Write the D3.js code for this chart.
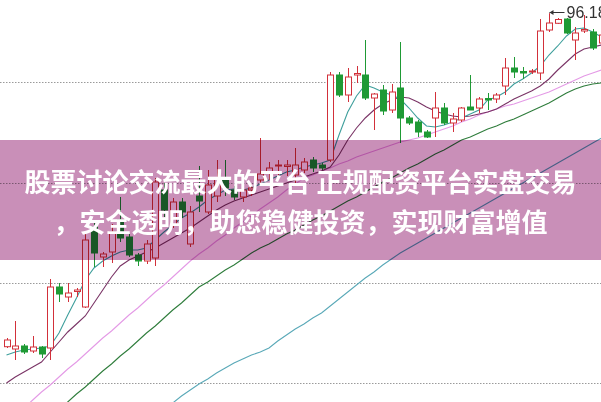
<!DOCTYPE html>
<html><head><meta charset="utf-8">
<script src="https://cdn.jsdelivr.net/npm/d3@7"></script>
<style>html,body{margin:0;padding:0;background:#fff;overflow:hidden}</style>
</head><body><svg id="c" width="601" height="402"></svg>
<script>
// ---- data (price units) ----
const opens  = [62.83,62.6,62.9,62.4,62.8,62.7,68.8,67.8,68.35,66.8,74.8,71.8,72.3,75.5,73.8,72.0,71.4,71.7,78.5,75.0,77.3,73.1,77.9,76.3,77.9,79.5,78.5,77.8,78.5,79.5,80.3,80.9,80.85,80.0,80.5,81.5,81.0,81.5,90.0,88.0,90.0,90.0,87.7,88.5,86.5,88.7,85.7,85.3,84.3,85.7,86.7,85.2,85.5,86.8,86.7,87.65,87.6,88.9,90.7,90.35,90.3,90.2,94.5,95.17,95.6,93.5,94.4,94.3,93.2];
const highs  = [63.7,65.4,63.1,63.9,62.9,69.6,69.2,69.2,68.7,74.3,75.5,72.3,75.1,77.8,74.1,72.2,73.5,79.7,79.2,77.7,77.7,76.9,80.9,80.5,81.5,81.5,78.9,78.9,79.1,83.7,81.3,81.5,81.5,82.7,81.7,81.8,81.2,90.3,90.3,90.7,90.9,93.5,88.2,89.0,89.1,93.3,85.9,85.5,84.5,88.3,87.2,86.2,86.8,90.0,87.8,88.2,88.2,91.7,91.8,90.8,90.6,95.6,96.18,95.7,95.7,94.8,96.0,94.6,94.2];
const lows   = [62.7,61.5,62.1,62.2,61.7,61.5,67.3,67.3,67.8,66.7,70.8,70.8,71.2,73.3,71.8,70.9,71.1,70.9,75.8,74.7,75.7,72.8,76.3,76.1,77.3,77.9,77.5,77.3,77.9,79.2,79.5,79.8,79.9,79.2,80.2,80.3,80.5,81.3,87.8,87.3,89.2,87.5,84.5,86.0,86.2,83.2,85.0,83.8,83.7,83.8,85.0,84.3,85.3,86.5,86.2,86.5,87.2,88.0,89.7,89.6,90.1,89.5,94.3,95.1,94.1,91.5,94.2,92.5,93.0];
const closes = [63.5,62.9,62.3,62.8,62.1,68.8,68.1,68.2,68.5,73.5,72.2,72.1,74.3,73.7,72.0,71.4,73.1,79.3,76.5,77.3,76.3,76.3,77.4,79.0,79.7,78.7,77.8,78.5,78.7,80.1,80.7,81.0,81.0,81.0,81.3,80.7,80.7,90.0,88.0,89.8,90.15,87.7,88.1,86.4,88.3,85.7,85.2,84.3,83.8,86.7,85.2,85.6,86.7,86.5,87.6,87.5,88.0,90.7,90.3,90.2,90.4,94.4,95.2,95.55,94.2,94.2,94.55,92.7,94.0];

const ma5  = [62.0,62.3,62.5,62.6,62.7,62.9,64.2,66.0,67.7,69.5,70.7,71.4,71.9,72.3,72.5,72.5,72.7,73.5,74.3,75.0,75.7,76.2,76.8,77.5,78.0,78.5,78.6,78.5,78.7,79.1,79.5,79.9,80.3,80.5,80.8,81.0,81.2,81.5,84.0,86.3,87.9,89.0,88.7,88.3,88.0,87.6,86.7,85.7,84.9,84.8,85.0,85.3,85.7,86.1,86.5,87.5,87.8,88.3,89.1,89.6,90.2,90.9,92.0,92.9,93.9,94.6,94.7,94.3,93.8];
const ma10 = [59.2,59.8,60.3,60.8,61.3,62.3,63.3,64.3,65.1,65.9,67.2,68.5,69.8,70.9,71.5,71.9,72.3,72.7,73.2,73.7,74.2,74.7,75.3,75.9,76.5,77.0,77.4,77.7,78.0,78.3,78.6,78.9,79.2,79.5,79.8,80.1,80.4,80.8,82.0,83.5,84.7,85.7,86.5,87.1,87.5,87.8,87.7,87.3,86.8,86.4,86.1,85.9,85.8,85.9,86.1,86.3,86.6,87.1,87.6,88.0,88.4,88.9,89.6,90.5,91.3,92.1,92.6,92.8,93.0];
const ma20 = [55.2,56.0,56.7,57.5,58.3,59.0,59.8,60.6,61.3,62.1,62.9,63.7,64.4,65.2,66.0,66.7,67.5,68.3,69.0,69.8,70.6,71.4,72.1,72.7,73.4,74.0,74.7,75.3,75.9,76.6,77.2,77.8,78.5,79.1,79.7,80.0,80.4,80.7,81.1,81.4,81.8,82.1,82.4,82.7,83.0,83.3,83.5,83.7,84.0,84.3,84.6,84.9,85.3,85.6,86.0,86.3,86.6,86.9,87.1,87.4,87.7,88.0,88.3,88.7,89.1,89.5,89.9,90.2,90.5];
const ma30 = [52.0,52.8,53.5,54.3,55.0,55.8,56.5,57.3,58.1,58.8,59.6,60.4,61.1,61.9,62.6,63.4,64.2,64.9,65.7,66.5,67.2,68.0,68.8,69.3,69.9,70.5,71.0,71.6,72.2,72.7,73.1,73.6,74.1,74.5,75.0,75.5,75.9,76.4,76.9,77.4,77.8,78.3,78.8,79.3,79.7,80.2,80.7,81.1,81.6,82.1,82.5,83.0,83.5,83.8,84.2,84.6,84.9,85.3,85.6,86.0,86.4,86.8,87.2,87.7,88.2,88.6,88.9,89.1,89.2];
const ma60 = [null,null,null,null,null,null,null,null,null,null,null,null,null,null,null,54.6,55.3,55.9,56.5,57.2,57.9,58.5,59.1,59.6,60.2,60.7,61.2,61.6,62.0,62.3,62.7,63.4,64.0,64.6,65.1,65.7,66.2,66.9,67.6,68.3,69.0,69.7,70.3,71.0,71.6,72.2,72.7,73.2,73.7,74.2,74.7,75.2,75.7,76.2,76.7,77.2,77.7,78.2,78.7,79.2,79.7,80.2,80.7,81.2,81.7,82.2,82.7,83.2,83.7];

const gridLevels = [89.3, 79.2, 69.2, 59.2];
const bannerLines = ["股票讨论交流最大的平台 正规配资平台实盘交易", "，安全透明，助您稳健投资，实现财富增值"];

// ---- drawing ----
const W = 601, H = 402;
const svg = d3.select("#c");
const x = d3.scaleLinear().domain([0, opens.length - 1]).range([6.5, 601.5]);
const y = d3.scaleLinear().domain([59.2, 89.3]).range([383, 82]);

svg.append("defs").append("clipPath").attr("id","clip")
  .append("rect").attr("width", W).attr("height", H);
const g = svg.append("g").attr("clip-path","url(#clip)");

// grid
g.selectAll("line.grid").data(gridLevels).join("line")
  .attr("x1", 0).attr("x2", W)
  .attr("y1", d => Math.round(y(d)) + 0.5).attr("y2", d => Math.round(y(d)) + 0.5)
  .attr("stroke", "#9a9a9a").attr("stroke-width", 1).attr("stroke-dasharray", "1.5,1.5");

// moving averages
const mas = [
  {v: ma60, c: "#5aa9b8"},
  {v: ma30, c: "#2f7d3c"},
  {v: ma20, c: "#e49ae6"},
  {v: ma10, c: "#7a3466"},
  {v: ma5,  c: "#3f9f9c"}
];
const line = d3.line().defined(d => d[1] != null).x(d => x(d[0])).y(d => y(d[1]));
mas.forEach(m => {
  g.append("path").datum(m.v.map((v,i) => [i, v]))
   .attr("d", line).attr("fill","none").attr("stroke", m.c).attr("stroke-width", 1.1);
});

// candles
const RED = "#d2303a", GREEN = "#1f9a35";
const bw = 6;
const idx = d3.range(opens.length);
const cg = g.append("g");
idx.forEach(i => {
  const up = closes[i] >= opens[i];
  const col = up ? RED : GREEN;
  const cx = Math.round(x(i)) + 0.5;
  const top = y(Math.max(opens[i], closes[i]));
  const bot = y(Math.min(opens[i], closes[i]));
  cg.append("line").attr("x1", cx).attr("x2", cx)
    .attr("y1", y(highs[i])).attr("y2", y(lows[i]))
    .attr("stroke", col).attr("stroke-width", 1);
  cg.append("rect")
    .attr("x", cx - bw/2).attr("y", top)
    .attr("width", bw).attr("height", Math.max(1, bot - top))
    .attr("fill", up ? "#fff" : col).attr("stroke", col).attr("stroke-width", 1);
});

// max label
const mi = d3.maxIndex(highs);
const mx = Math.round(x(mi)) + 0.5, my = Math.round(y(highs[mi])) - 0.5;
g.append("path").attr("d", `M${mx},${my}L${mx+15},${my}`).attr("stroke","#333").attr("stroke-width",1);
g.append("path").attr("d", `M${mx},${my}l4,-2.5v5z`).attr("fill","#333");
g.append("text").attr("x", mx + 17).attr("y", my + 5.5)
  .attr("font-family","Arial, 'Liberation Sans', sans-serif").attr("font-size", 16)
  .attr("fill","#333").text(d3.format(".2f")(highs[mi]));

// banner overlay
svg.append("rect").attr("x",0).attr("y",140).attr("width",W).attr("height",120)
  .attr("fill","rgb(201,143,184)").style("mix-blend-mode","multiply");
svg.selectAll("text.banner").data(bannerLines).join("text")
  .attr("class","banner")
  .attr("x", W/2).attr("y", (d,i) => 192 + i*39.5)
  .attr("text-anchor","middle")
  .attr("font-family","'Noto Sans CJK SC', sans-serif")
  .attr("font-weight","bold").attr("font-size", 26)
  .attr("fill","#fff").text(d => d);
</script></body></html>
